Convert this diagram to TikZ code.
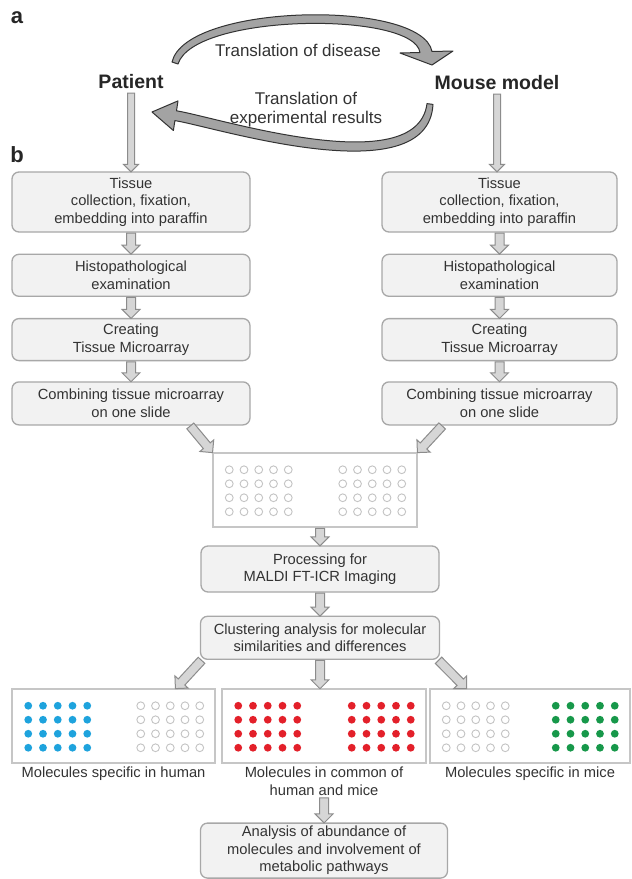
\documentclass[tikz,border=0pt]{standalone}
\usepackage{fontspec}
\setmainfont{Liberation Sans}
\usetikzlibrary{arrows.meta,positioning,shapes.arrows,calc}
\definecolor{boxline}{HTML}{A8A8A8}
\definecolor{boxfill}{HTML}{F2F2F2}
\definecolor{txt}{HTML}{333333}
\definecolor{arrline}{HTML}{8C8C8C}
\definecolor{arrfill}{HTML}{D6D6D6}
\definecolor{arcfill}{HTML}{A3A3A3}
\definecolor{slideline}{HTML}{C6C6C6}
\definecolor{spotgray}{HTML}{C4C4C4}
\definecolor{spotblue}{HTML}{1EA3DD}
\definecolor{spotred}{HTML}{E3202A}
\definecolor{spotgreen}{HTML}{17984A}
\tikzset{
  stepbox/.style={rectangle,rounded corners=7pt,draw=boxline,line width=1.3pt,fill=boxfill,align=center,text=txt,font=\fontsize{14.7pt}{17.5pt}\selectfont,inner sep=2pt},
  slidebox/.style={rectangle,draw=slideline,line width=1.5pt,fill=white,minimum height=74pt},
  caption/.style={align=center,text=txt,font=\fontsize{14.7pt}{17.5pt}\selectfont,inner sep=2pt},
  arctext/.style={align=center,text=txt,font=\fontsize{17pt}{19pt}\selectfont},
  side/.style={text=black!85,font=\bfseries\fontsize{19.5pt}{22pt}\selectfont},
  panel/.style={text=black!85,font=\bfseries\fontsize{22pt}{24pt}\selectfont},
  arc/.style={fill=arcfill,draw=black!80,line width=1pt,line join=round},
  blockarrow/.style={single arrow,draw=arrline,fill=arrfill,line width=1pt,inner sep=0pt,inner ysep=#1,anchor=tail,sloped,allow upside down},
  barrow/.style={to path={let \p1=(\tikztostart),\p2=(\tikztotarget),\n1={veclen(\x2-\x1,\y2-\y1)} in
    (\tikztostart) -- (\tikztotarget) node[pos=0,blockarrow=4pt,single arrow head extend=4.5pt,minimum height=\n1]{}}},
  longarrow/.style={to path={let \p1=(\tikztostart),\p2=(\tikztotarget),\n1={veclen(\x2-\x1,\y2-\y1)} in
    (\tikztostart) -- (\tikztotarget) node[pos=0,blockarrow=3pt,single arrow head extend=4pt,minimum height=\n1]{}}},
  openspot/.style={draw=spotgray,line width=0.9pt,fill=white},
  bluespot/.style={fill=spotblue},
  redspot/.style={fill=spotred},
  greenspot/.style={fill=spotgreen}
}
\begin{document}
\begin{tikzpicture}[x=1pt,y=-1pt]
  \useasboundingbox (0,0) rectangle (632,879);
  \fill[white] (0,0) rectangle (632,879);

  \node[panel] (pa) at (17,18) {a};
  \node[panel] (pb) at (17,155) {b};
  \node[side] (patient) at (131,82) {Patient};
  \node[side] (mouse) at (497,83) {Mouse model};
  \node[arctext] (disease) at (298,50) {Translation of disease};
  \node[arctext] (results) at (306,110) {Translation of\\experimental results};

  % curved arrows of part a
  \draw[arc] (172,62) .. controls (186,3) and (422,-1) .. (432,51.5) -- (453,51) -- (432,65)
    -- (400,53) -- (420,52.5) .. controls (414,11) and (194,13) .. (178,64) -- cycle;
  \draw[arc] (427,103.6) .. controls (417,182) and (216,117) .. (176.5,110.8) -- (178,100.9)
    -- (152,112) -- (173.4,130.5) -- (174.9,120.6) .. controls (215,127) and (428,195) .. (433,104.4) -- cycle;

  % patient column
  \node[stepbox,minimum width=238pt,minimum height=60pt] (l1) at (131,202) {Tissue\\collection, fixation,\\embedding into paraffin};
  \node[stepbox,below=21pt of l1,minimum width=238pt,minimum height=42pt] (l2) {Histopathological\\examination};
  \node[stepbox,below=21pt of l2,minimum width=238pt,minimum height=42pt] (l3) {Creating\\Tissue Microarray};
  \node[stepbox,below=20pt of l3,minimum width=238pt,minimum height=43pt] (l4) {Combining tissue microarray\\on one slide};

  % mouse column
  \node[stepbox,minimum width=235pt,minimum height=60pt] (r1) at (499.5,202) {Tissue\\collection, fixation,\\embedding into paraffin};
  \node[stepbox,below=21pt of r1,minimum width=235pt,minimum height=42pt] (r2) {Histopathological\\examination};
  \node[stepbox,below=21pt of r2,minimum width=235pt,minimum height=42pt] (r3) {Creating\\Tissue Microarray};
  \node[stepbox,below=20pt of r3,minimum width=235pt,minimum height=43pt] (r4) {Combining tissue microarray\\on one slide};

  \node[slidebox,minimum width=204pt] (slide) at (315,490) {};
  \node[stepbox,minimum width=238pt,minimum height=46pt] (proc) at (320,569) {Processing for\\MALDI FT-ICR Imaging};
  \node[stepbox,below=23pt of proc,minimum width=239pt,minimum height=43pt] (clu) {Clustering analysis for molecular\\similarities and differences};

  \node[slidebox,minimum width=203pt] (b1) at (113.5,726) {};
  \node[slidebox,minimum width=204pt] (b2) at (324,726) {};
  \node[slidebox,minimum width=200pt] (b3) at (530,726) {};
  \node[caption,below=1pt of b1] (cap1) {Molecules specific in human};
  \node[caption,below=1pt of b2] (cap2) {Molecules in common of\\human and mice};
  \node[caption,below=1pt of b3] (cap3) {Molecules specific in mice};
  \node[stepbox,below=25pt of cap2,minimum width=247pt,minimum height=55pt] (final) {Analysis of abundance of\\molecules and involvement of\\metabolic pathways};

  % tissue spots
  \foreach \bx/\ls/\rs in {slide/openspot/openspot,b1/bluespot/openspot,b2/redspot/redspot,b3/openspot/greenspot}{
    \foreach \i in {0,...,4}{
      \foreach \j in {0,...,3}{
        \path[\ls] ($(\bx.north west)+(17+\i*14.75,17.5+\j*14)$) circle (3.9pt);
        \path[\rs] ($(\bx.north east)+(-16-\i*14.75,17.5+\j*14)$) circle (3.9pt);
      }
    }
  }

  \path[longarrow] (patient.south) to (patient.south |- l1.north);
  \path[longarrow] (mouse.south) to (mouse.south |- r1.north);
  \path[barrow] (l1.south) to (l2.north);
  \path[barrow] (l2.south) to (l3.north);
  \path[barrow] (l3.south) to (l4.north);
  \path[barrow] (r1.south) to (r2.north);
  \path[barrow] (r2.south) to (r3.north);
  \path[barrow] (r3.south) to (r4.north);
  \path[barrow] ([xshift=59pt]l4.south) to (slide.north west);
  \path[barrow] ([xshift=-57pt]r4.south) to (slide.north east);
  \path[barrow] (proc.north |- slide.south) to (proc.north);
  \path[barrow] (proc.south) to (clu.north);
  \path[barrow] ([xshift=2pt]clu.south west) to ([xshift=-40pt]b1.north east);
  \path[barrow] (clu.south) to (clu.south |- b2.north);
  \path[barrow] ([xshift=-2pt]clu.south east) to ([xshift=37pt]b3.north west);
  \path[barrow] (cap2.south) to (final.north);
\end{tikzpicture}
\end{document}
